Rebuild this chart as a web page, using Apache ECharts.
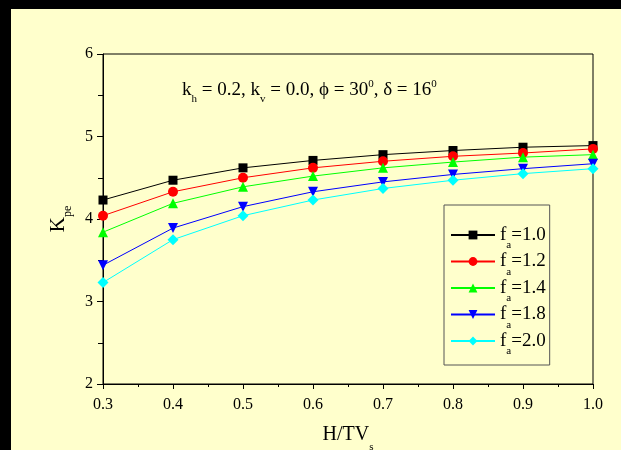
<!DOCTYPE html>
<html>
<head>
<meta charset="utf-8">
<script src="https://cdn.jsdelivr.net/npm/echarts@6/dist/echarts.min.js"></script>
<style>
html,body{margin:0;padding:0;background:#FFFFCC;}
#c{width:621px;height:450px;}
</style>
</head>
<body>
<div id="c"></div>
<script>
const xValues = [0.3, 0.4, 0.5, 0.6, 0.7, 0.8, 0.9, 1.0];
const seriesNames = ['1.0', '1.2', '1.4', '1.8', '2.0'];
const fa10 = [4.23, 4.47, 4.62, 4.71, 4.78, 4.83, 4.87, 4.89];
const fa12 = [4.04, 4.33, 4.50, 4.62, 4.70, 4.76, 4.80, 4.85];
const fa14 = [3.84, 4.19, 4.39, 4.52, 4.62, 4.69, 4.75, 4.78];
const fa18 = [3.44, 3.89, 4.15, 4.33, 4.45, 4.54, 4.61, 4.67];
const fa20 = [3.23, 3.75, 4.04, 4.23, 4.37, 4.47, 4.55, 4.61];

const allData = [fa10, fa12, fa14, fa18, fa20];
const colors = ['#000000', '#FF0000', '#00FF00', '#0000FF', '#00FFFF'];
const symbols = ['rect', 'circle', 'triangle', 'path://M0,0 L10,0 L5,10 Z', 'diamond'];
const symSizes = [9, 10, 10, 10, 11];

const FONT = '"Liberation Serif", "Times New Roman", serif';

const chart = echarts.init(document.getElementById('c'));

const series = allData.map((d, i) => ({
  name: seriesNames[i],
  type: 'line',
  data: xValues.map((x, j) => [x, d[j]]),
  symbol: symbols[i],
  symbolSize: symSizes[i],
  showAllSymbol: true,
  lineStyle: { color: colors[i], width: 1 },
  itemStyle: { color: colors[i] },
  emphasis: { disabled: true },
  animation: false
}));

chart.setOption({
  backgroundColor: '#FFFFCC',
  animation: false,
  grid: {
    left: 103, right: 28, top: 54, bottom: 66,
    outerBoundsMode: 'none',
    containLabel: false,
    show: true, borderColor: '#000', borderWidth: 1, backgroundColor: 'transparent'
  },
  xAxis: {
    type: 'value', min: 0.3, max: 1.0, interval: 0.1,
    axisLine: { show: true, onZero: false, lineStyle: { color: '#000', width: 1 } },
    axisTick: { show: true, length: 5, lineStyle: { color: '#000' } },
    minorTick: { show: true, splitNumber: 2, length: 3, lineStyle: { color: '#000' } },
    splitLine: { show: false },
    axisLabel: { color: '#000', fontFamily: FONT, fontSize: 16, margin: 13,
      formatter: v => v.toFixed(1) },
    name: '{m|H/TV}{s|s}',
    nameLocation: 'middle',
    nameGap: 39,
    nameTextStyle: {
      rich: {
        m: { fontFamily: FONT, fontSize: 20, color: '#000', lineHeight: 24 },
        s: { fontFamily: FONT, fontSize: 11, color: '#000', verticalAlign: 'top', lineHeight: 1, padding: [19, 0, 0, 0] }
      }
    }
  },
  yAxis: {
    type: 'value', min: 2, max: 6, interval: 1,
    axisLine: { show: true, onZero: false, lineStyle: { color: '#000', width: 1 } },
    axisTick: { show: true, length: 6, lineStyle: { color: '#000' } },
    minorTick: { show: true, splitNumber: 2, length: 5, lineStyle: { color: '#000' } },
    splitLine: { show: false },
    axisLabel: { color: '#000', fontFamily: FONT, fontSize: 16, margin: 10 },
    name: '{m|K}{s|pe}',
    nameLocation: 'middle',
    nameRotate: 90,
    nameGap: 33,
    nameTextStyle: {
      rich: {
        m: { fontFamily: FONT, fontSize: 21, color: '#000', lineHeight: 24 },
        s: { fontFamily: FONT, fontSize: 12, color: '#000', verticalAlign: 'top', lineHeight: 1, padding: [16, 0, 0, 0] }
      }
    }
  },
  legend: {
    orient: 'vertical',
    left: 444, top: 205,
    width: 105,
    padding: [19, 4, 8, 6],
    backgroundColor: '#FFFFCC',
    borderColor: '#555',
    borderWidth: 1,
    borderRadius: 0,
    itemWidth: 44,
    itemHeight: 11,
    itemGap: -0.5,
    data: seriesNames,
    formatter: name => '{f|f}{s|a}{m|=' + name + '}',
    textStyle: {
      rich: {
        f: { fontFamily: FONT, fontSize: 19, color: '#000', lineHeight: 22 },
        s: { fontFamily: FONT, fontSize: 11, color: '#000', verticalAlign: 'top', lineHeight: 1, padding: [16, 0, 0, 0] },
        m: { fontFamily: FONT, fontSize: 19, color: '#000', lineHeight: 22 }
      }
    }
  },
  graphic: [
    { type: 'rect', left: 0, top: 0, shape: { width: 621, height: 9 }, style: { fill: '#000' }, z: 100 },
    { type: 'rect', left: 0, top: 0, shape: { width: 11, height: 450 }, style: { fill: '#000' }, z: 100 },
    {
      type: 'text', x: 182, y: 79, z: 50,
      style: {
        text: '{m|k}{s|h}{m| = 0.2, k}{s|v}{m| = 0.0, \u03D5 = 30}{p|0}{m|, \u03B4 = 16}{p|0}',
        rich: {
          m: { fontFamily: FONT, fontSize: 19, fill: '#000', lineHeight: 22 },
          s: { fontFamily: FONT, fontSize: 11, fill: '#000', verticalAlign: 'top', lineHeight: 1, padding: [15, 0, 0, 0] },
          p: { fontFamily: FONT, fontSize: 11, fill: '#000', verticalAlign: 'top', lineHeight: 1, padding: [0, 0, 0, 0] }
        }
      }
    }
  ],
  series: series
});
</script>
</body>
</html>
